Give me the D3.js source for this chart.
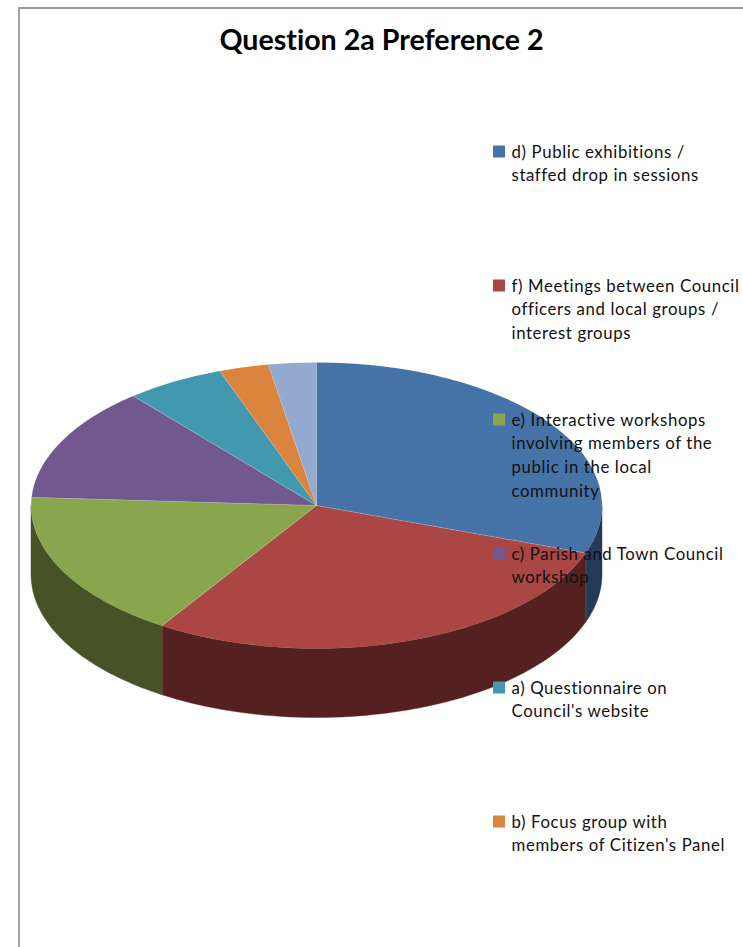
<!DOCTYPE html>
<html>
<head>
<meta charset="utf-8">
<script src="https://cdn.jsdelivr.net/npm/d3@7/dist/d3.min.js"></script>
<style>
  html, body { margin: 0; padding: 0; background: #fff; overflow: hidden; }
  svg { display: block; }
  text { font-family: Lato, "Open Sans", sans-serif; fill: #111; font-variant-ligatures: none; }
</style>
</head>
<body>
<svg id="chart" width="743" height="947"></svg>
<script>
// Survey result shares, in percent, largest first
const categories = ["d", "f", "e", "c", "a", "b", "other"];
const shares = [30.4, 28.7, 16.8, 13.0, 5.6, 2.8, 2.7];
const topColours = ["#4572a7", "#aa4643", "#89a54e", "#71588f", "#4198af", "#db843d", "#93a9cf"];
const wallColours = ["#233a58", "#552120", "#475226", "#392c48", "#214c58", "#6e421e", "#4a5568"];

const legendLabels = [
  ["d) Public exhibitions /", "staffed drop in sessions"],
  ["f) Meetings between Council", "officers and local groups /", "interest groups"],
  ["e) Interactive workshops", "involving members of the", "public in the local", "community"],
  ["c) Parish and Town Council", "workshop"],
  ["a) Questionnaire on", "Council's website"],
  ["b) Focus group with", "members of Citizen's Panel"]
];
const chartTitle = "Question 2a Preference 2";

const svg = d3.select("#chart");

// Outer frame: only the top and left edges fall inside the page
const frame = svg.append("g").attr("stroke", "#a3a3a3").attr("stroke-width", 2);
frame.append("line").attr("x1", 19).attr("y1", 8).attr("x2", 743).attr("y2", 8).attr("stroke", "#979797");
frame.append("line").attr("x1", 19).attr("y1", 7).attr("x2", 19).attr("y2", 947);

svg.append("text")
  .attr("x", 381.5).attr("y", 50)
  .attr("text-anchor", "middle")
  .style("font-size", "28.6px")
  .style("font-weight", 700)
  .style("fill", "#000")
  .text(chartTitle);

// Tilted pie geometry
const cx = 316.5, cy = 505.5, rx = 285.5, ry = 143, depth = 69;

const pie = d3.pie().sort(null).value(d => d)(shares);

const pointAt = (angle, drop = 0) => [cx + rx * Math.sin(angle), cy - ry * Math.cos(angle) + drop];

// Side walls, only for the part of the rim that faces the viewer
const sideStart = Math.PI / 2, sideEnd = Math.PI * 1.5;
const walls = svg.append("g");
pie.forEach((slice, i) => {
  const a0 = Math.max(slice.startAngle, sideStart);
  const a1 = Math.min(slice.endAngle, sideEnd);
  if (a1 <= a0) return;
  const steps = d3.range(0, 1.0001, 1 / 60).map(t => a0 + (a1 - a0) * t);
  const outline = steps.map(a => pointAt(a)).concat(steps.slice().reverse().map(a => pointAt(a, depth)));
  walls.append("path")
    .attr("d", d3.line().curve(d3.curveLinearClosed)(outline))
    .attr("fill", wallColours[i])
    .attr("stroke", wallColours[i])
    .attr("stroke-width", 0.4);
  // Pale seam where two walls meet
  if (a1 < sideEnd) {
    const [x0, y0] = pointAt(a1), [x1, y1] = pointAt(a1, depth);
    walls.append("line")
      .attr("x1", x0).attr("y1", y0).attr("x2", x1).attr("y2", y1)
      .attr("stroke", "#8a8a8a").attr("stroke-width", 0.6);
  }
});

// Top face: a flat d3 pie squashed vertically into an ellipse
const arc = d3.arc().innerRadius(0).outerRadius(1);
svg.append("g")
  .attr("transform", `translate(${cx},${cy}) scale(${rx},${ry})`)
  .selectAll("path")
  .data(pie)
  .join("path")
  .attr("d", arc)
  .attr("fill", (d, i) => topColours[i]);

// Faint radial seams between neighbouring slices
svg.append("g")
  .selectAll("line")
  .data(pie)
  .join("line")
  .attr("x1", cx).attr("y1", cy)
  .attr("x2", d => pointAt(d.startAngle)[0])
  .attr("y2", d => pointAt(d.startAngle)[1])
  .attr("stroke", "#d8d8d8")
  .attr("stroke-opacity", 0.4)
  .attr("stroke-width", 0.7);

// Legend sits above the pie, overlapping it as the layout requires
const legendY = d3.scalePoint().domain(d3.range(legendLabels.length)).range([151.5, 821.5]);
const legend = svg.append("g");
legendLabels.forEach((lines, i) => {
  const y = legendY(i);
  legend.append("rect")
    .attr("x", 493).attr("y", y - 6).attr("width", 12).attr("height", 12)
    .attr("fill", topColours[i]);
  const label = legend.append("text")
    .style("font-size", "16.8px")
    .style("letter-spacing", "0.62px");
  lines.forEach((line, k) => {
    label.append("tspan")
      .attr("x", 511.5)
      .attr("y", y + 6 + k * 23.9)
      .text(line);
  });
});
</script>
</body>
</html>
